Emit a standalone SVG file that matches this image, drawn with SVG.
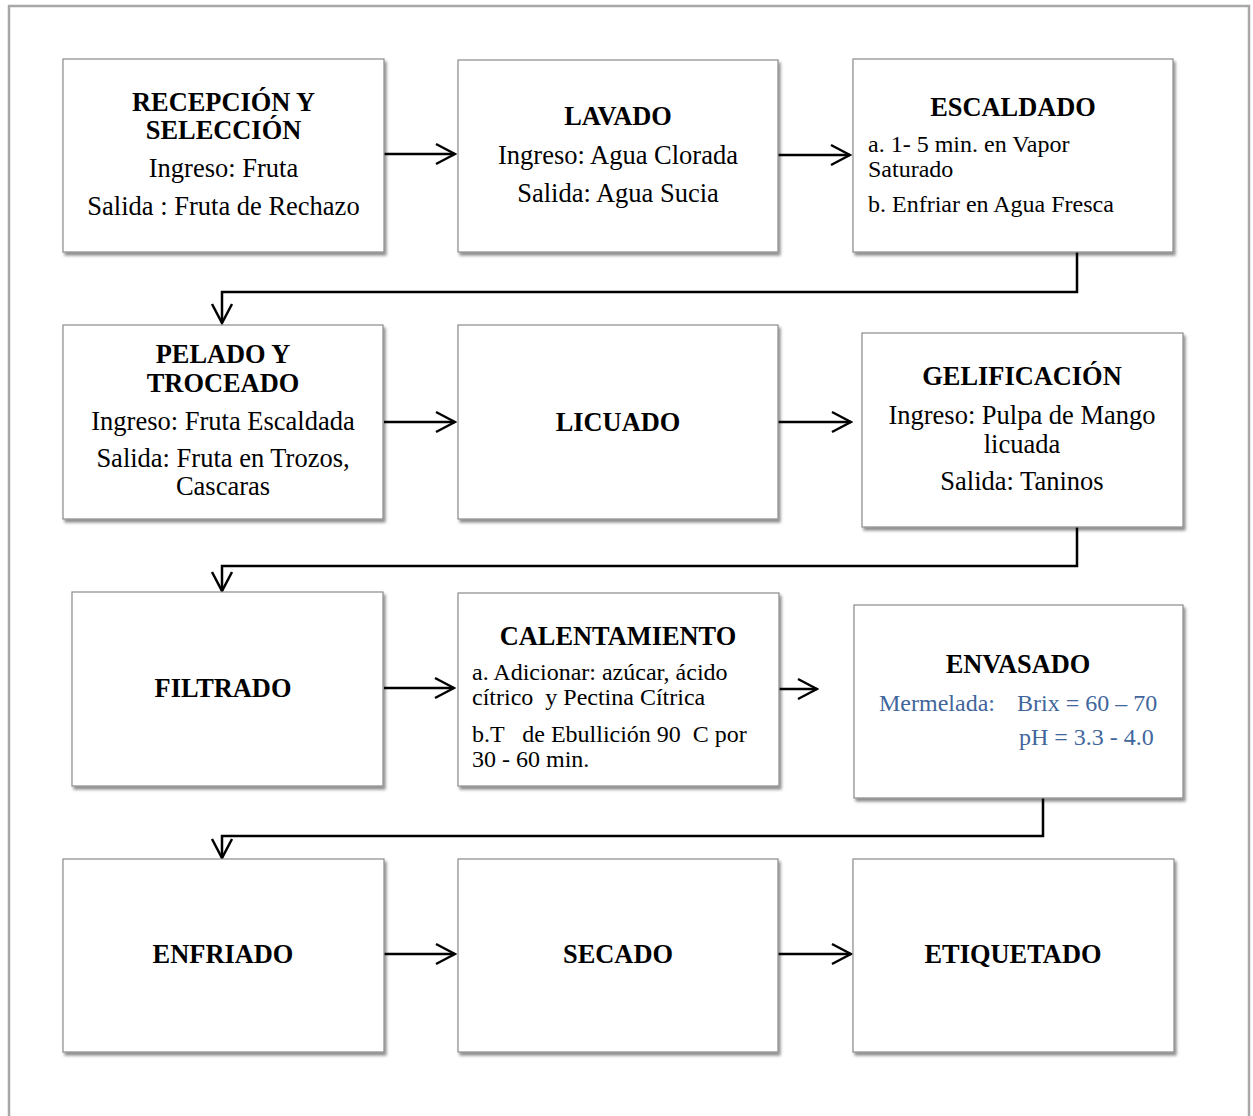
<svg xmlns="http://www.w3.org/2000/svg" width="1253" height="1116" viewBox="0 0 1253 1116">
  <style>
    .box { fill: #ffffff; stroke: #8a8a8a; stroke-width: 1.2; filter: url(#shadow); }
    .t { font-family: "Liberation Serif", "Times New Roman", serif; fill: #000; }
    .title { font-weight: bold; font-size: 26.4px; text-anchor: middle; }
    .body { font-size: 26.5px; text-anchor: middle; }
    .small { font-size: 24px; }
    .blue { fill: #41669c; }
    .pre { white-space: pre; }
    .wire { fill: none; stroke: #000; stroke-width: 2.5; marker-end: url(#chev); }
  </style>
  <defs>
    <filter id="shadow" x="-5%" y="-5%" width="115%" height="120%">
      <feDropShadow dx="2" dy="3" stdDeviation="1.5" flood-color="#000" flood-opacity="0.45"/>
    </filter>
    <marker id="chev" viewBox="-22 -12 24 24" refX="0" refY="0" markerWidth="24" markerHeight="24" markerUnits="userSpaceOnUse" orient="auto">
      <path d="M-19,-10 L0,0 L-19,10" fill="none" stroke="#000" stroke-width="2.5"/>
    </marker>
  </defs>

  <!-- page frame -->
  <rect x="9" y="6" width="1240" height="1130" fill="#fff" stroke="#a8a8a8" stroke-width="2.5"/>

  <!-- connectors -->
  <g id="connectors">
    <path class="wire" d="M384,154 H455"/>
    <path class="wire" d="M778,155 H850"/>
    <path class="wire" d="M1077,252 V292 H222 V323"/>
    <path class="wire" d="M384,422 H455"/>
    <path class="wire" d="M778,422 H851"/>
    <path class="wire" d="M1077,527 V566 H222 V591"/>
    <path class="wire" d="M384,688 H454"/>
    <path class="wire" d="M779,689 H817"/>
    <path class="wire" d="M1043,798 V836 H222 V858"/>
    <path class="wire" d="M384,954 H455"/>
    <path class="wire" d="M778,954 H851"/>
  </g>

  <!-- row 1 -->
  <g id="recepcion">
    <rect class="box" x="63" y="59" width="321" height="193"/>
    <text class="t title" x="223.5" y="111">RECEPCIÓN Y</text>
    <text class="t title" x="223.5" y="139">SELECCIÓN</text>
    <text class="t body" x="223.5" y="177">Ingreso: Fruta</text>
    <text class="t body" x="223.5" y="215">Salida : Fruta de Rechazo</text>
  </g>
  <g id="lavado">
    <rect class="box" x="458" y="60" width="320" height="192"/>
    <text class="t title" x="618" y="125">LAVADO</text>
    <text class="t body" x="618" y="164">Ingreso: Agua Clorada</text>
    <text class="t body" x="618" y="202">Salida: Agua Sucia</text>
  </g>
  <g id="escaldado">
    <rect class="box" x="853" y="59" width="320" height="193"/>
    <text class="t title" x="1013" y="116">ESCALDADO</text>
    <text class="t small" x="868" y="152">a. 1- 5 min. en Vapor</text>
    <text class="t small" x="868" y="177">Saturado</text>
    <text class="t small" x="868" y="212">b. Enfriar en Agua Fresca</text>
  </g>

  <!-- row 2 -->
  <g id="pelado">
    <rect class="box" x="63" y="325" width="320" height="194"/>
    <text class="t title" x="223" y="363">PELADO Y</text>
    <text class="t title" x="223" y="392">TROCEADO</text>
    <text class="t body" x="223" y="430">Ingreso: Fruta Escaldada</text>
    <text class="t body" x="223" y="467">Salida: Fruta en Trozos,</text>
    <text class="t body" x="223" y="495">Cascaras</text>
  </g>
  <g id="licuado">
    <rect class="box" x="458" y="325" width="320" height="194"/>
    <text class="t title" x="618" y="431">LICUADO</text>
  </g>
  <g id="gelificacion">
    <rect class="box" x="862" y="333" width="321" height="194"/>
    <text class="t title" x="1022" y="385">GELIFICACIÓN</text>
    <text class="t body" x="1022" y="424">Ingreso: Pulpa de Mango</text>
    <text class="t body" x="1022" y="453">licuada</text>
    <text class="t body" x="1022" y="490">Salida: Taninos</text>
  </g>

  <!-- row 3 -->
  <g id="filtrado">
    <rect class="box" x="72" y="592" width="311" height="194"/>
    <text class="t title" x="223" y="697">FILTRADO</text>
  </g>
  <g id="calentamiento">
    <rect class="box" x="458" y="593" width="321" height="193"/>
    <text class="t title" x="618" y="645">CALENTAMIENTO</text>
    <text class="t small" x="472" y="680">a. Adicionar: azúcar, ácido</text>
    <text class="t small pre" x="472" y="705">cítrico  y Pectina Cítrica</text>
    <text class="t small pre" x="472" y="742">b.T   de Ebullición 90  C por</text>
    <text class="t small" x="472" y="767">30 - 60 min.</text>
  </g>
  <g id="envasado">
    <rect class="box" x="854" y="605" width="329" height="193"/>
    <text class="t title" x="1018" y="673">ENVASADO</text>
    <text class="t small blue" x="879" y="711">Mermelada:</text>
    <text class="t small blue" x="1017" y="711">Brix = 60 – 70</text>
    <text class="t small blue" x="1019" y="745">pH = 3.3 - 4.0</text>
  </g>

  <!-- row 4 -->
  <g id="enfriado">
    <rect class="box" x="63" y="859" width="321" height="193"/>
    <text class="t title" x="223" y="963">ENFRIADO</text>
  </g>
  <g id="secado">
    <rect class="box" x="458" y="859" width="320" height="193"/>
    <text class="t title" x="618" y="963">SECADO</text>
  </g>
  <g id="etiquetado">
    <rect class="box" x="853" y="859" width="321" height="193"/>
    <text class="t title" x="1013" y="963">ETIQUETADO</text>
  </g>
</svg>
